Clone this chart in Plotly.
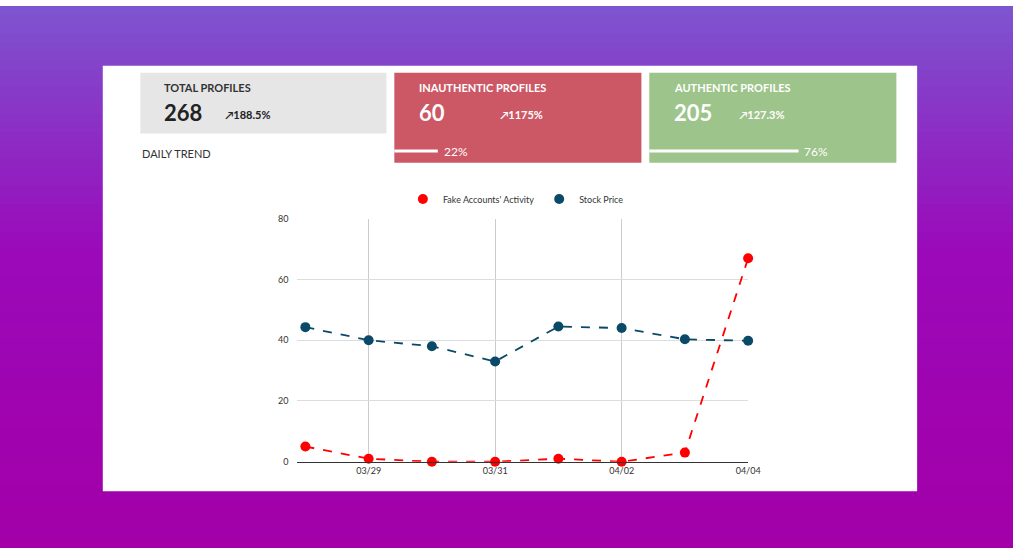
import plotly.graph_objects as go

dates = ["2024-03-28","2024-03-29","2024-03-30","2024-03-31","2024-04-01","2024-04-02","2024-04-03","2024-04-04"]
fake = [5, 1, 0, 0, 1, 0, 3, 67]
stock = [44.3, 40, 38, 33, 44.5, 44, 40.3, 39.8]
tick_dates = ["2024-03-29","2024-03-31","2024-04-02","2024-04-04"]
tick_labels = ["03/29","03/31","04/02","04/04"]

W, H = 1025, 552
def px(x): return x / W
def py(y): return 1 - y / H

fig = go.Figure()
for name, vals, col in [("Fake Accounts' Activity", fake, "#ff0000"), ("Stock Price", stock, "#0a4a68")]:
    fig.add_trace(go.Scatter(x=dates, y=vals, name=name, mode="lines+markers", showlegend=False, legendgroup=name,
                             line=dict(color=col, dash="dash", width=1.8), marker=dict(size=10, color=col),
                             cliponaxis=False))
for name, col in [("Fake Accounts' Activity", "#ff0000"), ("Stock Price", "#0a4a68")]:
    fig.add_trace(go.Scatter(x=[None], y=[None], name=name, mode="markers", legendgroup=name,
                             marker=dict(size=10, color=col)))

shapes = []
n = 60
def lerp(a, b, t): return tuple(int(a[i] + (b[i] - a[i]) * t) for i in range(3))
c0, c1, c2 = (126, 84, 208), (155, 10, 186), (163, 0, 168)
for i in range(n):
    t = i / (n - 1)
    c = lerp(c0, c1, t / 0.45) if t < 0.45 else lerp(c1, c2, (t - 0.45) / 0.55)
    shapes.append(dict(type="rect", xref="paper", yref="paper", x0=0, x1=1,
                       y0=1 - (i + 1) / n - 0.002, y1=1 - i / n, line_width=0,
                       fillcolor="rgb(%d,%d,%d)" % c, layer="below"))
shapes.append(dict(type="rect", xref="paper", yref="paper", x0=px(104), x1=px(928), y0=py(495), y1=py(61),
                   line_width=0, fillcolor="white", layer="below"))
boxes = [(142, 391, 68, 130, "#e6e6e6"), (399, 649, 68, 160, "#cd5865"), (657, 907, 68, 160, "#9dc48a")]
for x0, x1, y0, y1, col in boxes:
    shapes.append(dict(type="rect", xref="paper", yref="paper", x0=px(x0), x1=px(x1), y0=py(y1), y1=py(y0),
                       line_width=0, fillcolor=col, layer="below"))
shapes.append(dict(type="line", xref="paper", yref="paper", x0=px(399), x1=px(443), y0=py(148), y1=py(148),
                   line=dict(color="white", width=3)))
shapes.append(dict(type="line", xref="paper", yref="paper", x0=px(657), x1=px(808), y0=py(148), y1=py(148),
                   line=dict(color="white", width=3)))

ann = []
def t(x, y, s, size, color, bold=True):
    ann.append(dict(xref="paper", yref="paper", x=px(x), y=py(y), text=("<b>%s</b>" % s) if bold else s,
                    showarrow=False, xanchor="left", yanchor="middle", font=dict(size=size, color=color)))
t(164, 83, "TOTAL PROFILES", 11, "#333")
t(164, 109, "268", 22, "#222")
t(226, 111, "↗188.5%", 11, "#222")
t(142, 151, "DAILY TREND", 11, "#333", bold=False)
t(422, 83, "INAUTHENTIC PROFILES", 11, "white")
t(422, 109, "60", 22, "white")
t(504, 111, "↗1175%", 11, "white")
t(447, 148, "22%", 12, "white", bold=False)
t(680, 83, "AUTHENTIC PROFILES", 11, "white")
t(680, 109, "205", 22, "white")
t(746, 111, "↗127.3%", 11, "white")
t(812, 148, "76%", 12, "white", bold=False)

fig.update_layout(
    width=W, height=H, margin=dict(l=0, r=0, t=0, b=0),
    paper_bgcolor="white", plot_bgcolor="white",
    font=dict(family="Lato", color="#444"),
    shapes=shapes, annotations=ann,
    legend=dict(orientation="h", x=px(522), xanchor="center", y=py(197), yanchor="middle",
                font=dict(size=9, color="#333"), bgcolor="rgba(0,0,0,0)", itemwidth=30),
    xaxis=dict(domain=[px(301), px(757)], type="date",
               range=["2024-03-27 21:00", "2024-04-04 00:00"],
               tickvals=tick_dates, ticktext=tick_labels, showgrid=True, gridcolor="#cccccc",
               tickfont=dict(size=9, color="#333"), showline=True, linecolor="#333", linewidth=1, zeroline=False),
    yaxis=dict(domain=[py(465), py(217)], range=[0, 80], dtick=20, gridcolor="#dddddd",
               tickfont=dict(size=9, color="#333"), zeroline=False, ticks="", ticklabelstandoff=8),
)
js = ("var s=document.createElement('style');"
      "s.innerHTML='html,body{margin:0!important;padding:0!important;overflow:hidden!important;width:1025px;height:552px}';"
      "document.head.appendChild(s);")
fig.write_html("out.html", post_script=js, config={"displayModeBar": False})
